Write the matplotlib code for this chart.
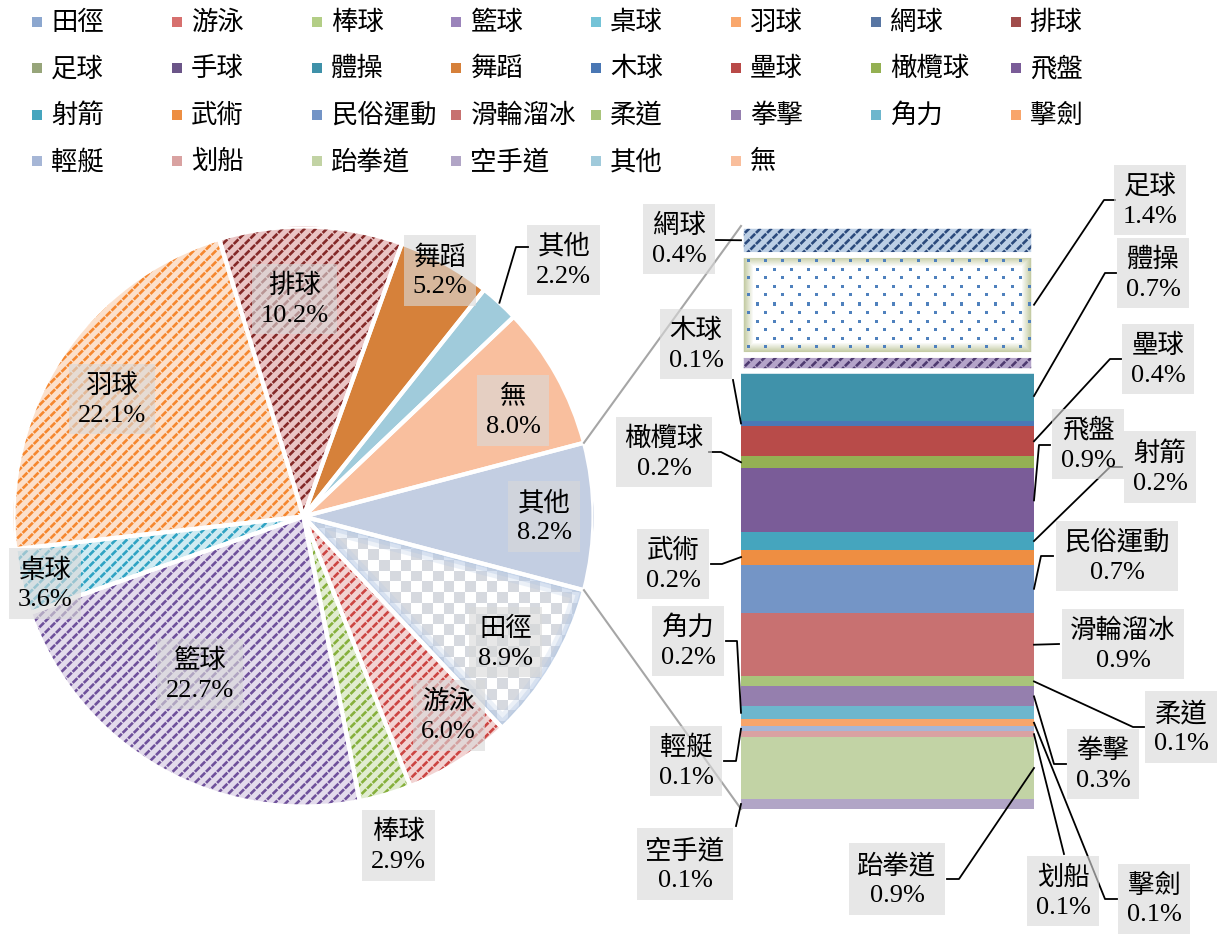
import numpy as np
import matplotlib
matplotlib.use('Agg')
import matplotlib.pyplot as plt
from matplotlib.patches import Wedge, Rectangle
from matplotlib.colors import ListedColormap, to_rgb

FONT = ['Liberation Serif', 'Noto Sans CJK TC']
plt.rcParams['font.family'] = FONT
plt.rcParams['hatch.linewidth'] = 1.3

# ---------------- data ----------------
pie_labels = ['田徑', '游泳', '棒球', '籃球', '桌球', '羽球', '排球', '舞蹈', '其他', '無']
pie_values = [8.9, 6.0, 2.9, 22.7, 3.6, 22.1, 10.2, 5.2, 2.2, 8.0]

bar_labels = ['網球', '足球', '手球', '體操', '木球', '壘球', '橄欖球', '飛盤', '射箭', '武術',
              '民俗運動', '滑輪溜冰', '柔道', '拳擊', '角力', '擊劍', '輕艇', '划船', '跆拳道', '空手道']
bar_values = [0.40, 1.41, 0.23, 0.69, 0.08, 0.42, 0.17, 0.90, 0.24, 0.21,
              0.68, 0.89, 0.14, 0.28, 0.18, 0.10, 0.07, 0.08, 0.87, 0.14]
agg_label = '其他'

legend_order = ['田徑', '游泳', '棒球', '籃球', '桌球', '羽球', '網球', '排球',
                '足球', '手球', '體操', '舞蹈', '木球', '壘球', '橄欖球', '飛盤',
                '射箭', '武術', '民俗運動', '滑輪溜冰', '柔道', '拳擊', '角力', '擊劍',
                '輕艇', '划船', '跆拳道', '空手道', '其他', '無']

# ---------------- styles ----------------
swatch = {
    '田徑': '#8CA7CF', '游泳': '#D7706E', '棒球': '#B3CE86', '籃球': '#9B84BB', '桌球': '#74C3D7',
    '羽球': '#F9A76C', '網球': '#5876A3', '排球': '#A04C4B', '足球': '#97A57A', '手球': '#6B5588',
    '體操': '#3F91A9', '舞蹈': '#D6803A', '木球': '#4A77B4', '壘球': '#B94A48', '橄欖球': '#94B052',
    '飛盤': '#7A5C98', '射箭': '#45A5BE', '武術': '#ED8E42', '民俗運動': '#7394C6', '滑輪溜冰': '#C77170',
    '柔道': '#A9C47B', '拳擊': '#957FAF', '角力': '#6DB6CD', '擊劍': '#F8A56B', '輕艇': '#A6B6D6',
    '划船': '#D9A2A1', '跆拳道': '#C2D3A4', '空手道': '#B1A5C6', '其他': '#A0CADB', '無': '#F9BE9C',
}
pie_face = {'田徑': 'white', '游泳': '#F2D3D2', '棒球': '#E1ECD0', '籃球': '#E3DBEC', '桌球': '#D0EBF2',
            '羽球': '#FCE0CB', '排球': '#EAC4C4', '舞蹈': '#D6813A', '其他': '#A0CBDB', '無': '#F9BF9E'}
pie_hatch = {'游泳': '#CC4542', '棒球': '#86B03C', '籃球': '#6F519B', '桌球': '#2FA3C3',
             '羽球': '#F5872F', '排球': '#842928'}
agg_color = '#C3CEE2'
bar_face = {'網球': '#BCCFE5', '足球': 'white', '手球': '#B4A4C9', '體操': '#4092AA', '木球': '#4B78B5',
            '壘球': '#B84B49', '橄欖球': '#94B053', '飛盤': '#7A5C98', '射箭': '#45A5BE', '武術': '#EE8E42',
            '民俗運動': '#7495C6', '滑輪溜冰': '#C87171', '柔道': '#A9C47B', '拳擊': '#957FAE',
            '角力': '#6DB6CD', '擊劍': '#F7A56B', '輕艇': '#A6B6D6', '划船': '#D9A2A2',
            '跆拳道': '#C2D3A5', '空手道': '#B1A5C6'}
bar_hatch = {'網球': ('///', '#2B4A7C'), '手球': ('///', '#4E3A70')}

FS = 19
LS = 1.4
BOX = dict(boxstyle='square,pad=0.33', fc='#D9D9D9', ec='none', alpha=0.62)
HATCH_LW = 1.9
BREAK_LW = 0.9

# label layout (pie: radius fraction, angle deg)
pie_label_pos = {'田徑': (0.82, -31.9), '游泳': (0.85, -53.9), '棒球': (1.18, -73.9),
                 '籃球': (0.65, -123.3), '桌球': (0.92, -165.4), '羽球': (0.775, 148.5),
                 '排球': (0.75, 92.4), '舞蹈': (0.97, 60.9), '其他': (1.26, 44.6),
                 '無': (0.81, 26.8)}
agg_label_pos = (0.83, 0.0)
# bar labels: box centre (px), leader points from box (px), side of bar (0 left, 1 right)
bar_label_layout = {
    '網球': ((679, 240), [(716, 241)], 0),
    '足球': ((1150, 201), [(1115, 201), (1104, 201)], 1),
    '體操': ((1153, 274), [(1116, 274), (1105, 274)], 1),
    '木球': ((696, 345), [(733, 381)], 0),
    '壘球': ((1158, 360), [(1121, 360), (1110, 360)], 1),
    '橄欖球': ((664, 453), [(709, 453), (721, 453)], 0),
    '飛盤': ((1088, 445), [(1050, 446), (1039, 446)], 1),
    '射箭': ((1160, 468), [(1122, 468), (1110, 468)], 1),
    '武術': ((673, 565), [(711, 565), (722, 565)], 0),
    '民俗運動': ((1117, 557), [(1053, 557), (1041, 557)], 1),
    '滑輪溜冰': ((1123, 645), [(1059, 645)], 1),
    '柔道': ((1181, 728), [(1144, 728), (1133, 728)], 1),
    '拳擊': ((1103, 765), [(1066, 765), (1054, 765)], 1),
    '角力': ((688, 642), [(726, 642), (737, 642)], 0),
    '擊劍': ((1154, 900), [(1117, 900), (1105, 900)], 1),
    '輕艇': ((686, 762), [(724, 762), (736, 762)], 0),
    '划船': ((1063, 892), [(1064, 855)], 1),
    '跆拳道': ((897, 880), [(947, 880), (959, 880)], 1),
    '空手道': ((685, 865), [(736, 827)], 0),
}


def hatch_patch(cls, args, color, pattern, lw, zorder, ax):
    with plt.rc_context({'hatch.linewidth': lw}):
        p = cls(*args, fc='none', ec=color, lw=0, hatch=pattern, zorder=zorder)
    if hasattr(p, 'set_hatch_linewidth'):
        p.set_hatch_linewidth(lw)
    ax.add_patch(p)
    return p


# ---------------- figure ----------------
W, H = 1224, 945
fig = plt.figure(figsize=(W / 100, H / 100), dpi=100)


def px_rect(l, t, r, b):
    return [l / W, 1 - b / H, (r - l) / W, (b - t) / H]


# pie
cx, cy, R = 303.5, 517.5, 290
pax = fig.add_axes(px_rect(cx - R, cy - R, cx + R, cy + R))
agg_value = sum(bar_values)
vals = pie_values + [agg_value]
a = 360 * agg_value / sum(vals)
faces = [pie_face[n] for n in pie_labels] + [agg_color]
wedges, _ = pax.pie(vals, startangle=-a / 2, counterclock=False, colors=faces,
                    radius=1, wedgeprops=dict(linewidth=0))
pax.set_aspect('equal')
pax.axis('off')

# checkerboard for 田徑
n = 54
chk = np.add.outer(np.arange(n), np.arange(n)) % 2
im = pax.imshow(chk, extent=(-1, 1, -1, 1), cmap=ListedColormap(['white', '#D6D9DF']),
                interpolation='nearest', zorder=1.5)
im.set_clip_path(wedges[0])
for lw, al in [(16, 0.25), (10, 0.35), (5, 0.45)]:
    g = Wedge((0, 0), 1, wedges[0].theta1, wedges[0].theta2, fc='none', ec='#B3C7E3',
              lw=lw, alpha=al, zorder=1.6)
    pax.add_patch(g)
    g.set_clip_path(wedges[0])
pax.set_xlim(-1, 1)
pax.set_ylim(-1, 1)

# dashed diagonal pattern: coloured '/' lines broken by background-coloured '\' lines
for name, w in zip(pie_labels, wedges):
    if name in pie_hatch:
        hatch_patch(Wedge, ((0, 0), 1, w.theta1, w.theta2), pie_hatch[name], '///', HATCH_LW, 2, pax)
        hatch_patch(Wedge, ((0, 0), 1, w.theta1, w.theta2), pie_face[name], '\\\\\\', BREAK_LW, 2.1, pax)
for w in wedges:
    pax.add_patch(Wedge((0, 0), 1, w.theta1, w.theta2, fc='none', ec='white', lw=3, zorder=3))

for name, v in zip(pie_labels, pie_values):
    r, ang = pie_label_pos[name]
    pax.text(r * np.cos(np.radians(ang)), r * np.sin(np.radians(ang)), f'{name}\n{v:.1f}%',
             ha='center', va='center', fontsize=FS, bbox=BOX, zorder=5, linespacing=LS)
r, ang = agg_label_pos
pax.text(r * np.cos(np.radians(ang)), r * np.sin(np.radians(ang)), f'{agg_label}\n{agg_value:.1f}%',
         ha='center', va='center', fontsize=FS, bbox=BOX, zorder=5, linespacing=LS)

# bar
bax = fig.add_axes(px_rect(741, 227, 1034, 810))
total = agg_value
bottoms = total - np.cumsum(bar_values)
bars = bax.bar(np.zeros(len(bar_values)), bar_values, bottom=bottoms, width=1, align='edge',
               color=[bar_face[nm] for nm in bar_labels], linewidth=0)
bax.set_xlim(0, 1)
bax.set_ylim(0, total)
bax.axis('off')

for nm, b in zip(bar_labels, bars):
    if nm in bar_hatch:
        h, hc = bar_hatch[nm]
        rargs = (b.get_xy(), b.get_width(), b.get_height())
        hatch_patch(Rectangle, rargs, hc, h, HATCH_LW, 2.5, bax)
        hatch_patch(Rectangle, rargs, bar_face[nm], '\\\\\\', BREAK_LW, 2.6, bax)
    if nm == '足球':
        # dotted texture with soft olive edge
        (x0, y0), (x1, y1) = bax.transData.transform([(0, b.get_y()), (1, b.get_y() + b.get_height())])
        wpx, hpx = int(round(x1 - x0)), int(round(y1 - y0))
        yy, xx = np.mgrid[0:hpx, 0:wpx]
        d = np.minimum.reduce([xx, wpx - 1 - xx, yy, hpx - 1 - yy]).astype(float)
        t = np.clip((d - 2) / 10, 0, 1)[..., None]
        img = np.array(to_rgb('#BFC79C')) * (1 - t) + t
        dots = (((xx - 6) % 17 < 3) & ((yy - 5) % 17 < 3)) | (((xx + 2) % 17 < 3) & ((yy + 3) % 17 < 3))
        img[dots] = to_rgb('#4F81BD')
        bax.imshow(img, extent=(0, 1, b.get_y(), b.get_y() + b.get_height()), origin='upper',
                   interpolation='nearest', aspect='auto', zorder=2.2)
    if nm in bar_hatch or nm == '足球':
        bax.add_patch(Rectangle(b.get_xy(), b.get_width(), b.get_height(), fc='none', ec='white',
                                lw=4, zorder=3))
bax.set_xlim(0, 1)
bax.set_ylim(0, total)

# overlay in pixel coordinates
ov = fig.add_axes([0, 0, 1, 1])
ov.set_xlim(0, W)
ov.set_ylim(H, 0)
ov.axis('off')
fig.canvas.draw()


def to_ov(ax, xy):
    return ov.transData.inverted().transform(ax.transData.transform(xy))


# connector lines pie -> bar
top_pie = to_ov(pax, (np.cos(np.radians(a / 2)), np.sin(np.radians(a / 2))))
bot_pie = to_ov(pax, (np.cos(np.radians(-a / 2)), np.sin(np.radians(-a / 2))))
top_bar = to_ov(bax, (0, total))
bot_bar = to_ov(bax, (0, 0))
ov.plot([top_pie[0], top_bar[0]], [top_pie[1], top_bar[1]], color='#A6A6A6', lw=1.5)
ov.plot([bot_pie[0], bot_bar[0]], [bot_pie[1], bot_bar[1]], color='#A6A6A6', lw=1.5)

# leader for small 其他 slice
w_o = wedges[pie_labels.index('其他')]
mid = np.radians((w_o.theta1 + w_o.theta2) / 2)
p = to_ov(pax, (np.cos(mid), np.sin(mid)))
ov.plot([528, 516, p[0]], [248, 248, p[1]], color='black', lw=1.3)

# bar labels
for nm, v, b in zip(bar_labels, bar_values, bars):
    if nm not in bar_label_layout:
        continue
    (tx, ty), pts, side = bar_label_layout[nm]
    end = to_ov(bax, (side, b.get_y() + b.get_height() / 2))
    xs = [q[0] for q in pts] + [end[0]]
    ys = [q[1] for q in pts] + [end[1]]
    ov.plot(xs, ys, color='black', lw=1.3, zorder=2)
    ov.text(tx, ty, f'{nm}\n{v:.1f}%', ha='center', va='center', fontsize=FS, bbox=BOX,
            zorder=4, linespacing=LS)

# legend (manual grid)
for i, nm in enumerate(legend_order):
    row, col = divmod(i, 8)
    sx = 37 + col * 139.8
    sy = 22.5 + row * 46.5
    ov.add_patch(Rectangle((sx - 5, sy - 5), 10, 10, fc=swatch[nm], ec='none'))
    ov.text(sx + 14, sy, nm, ha='left', va='center', fontsize=FS)

fig.savefig('out.png', dpi=100)
